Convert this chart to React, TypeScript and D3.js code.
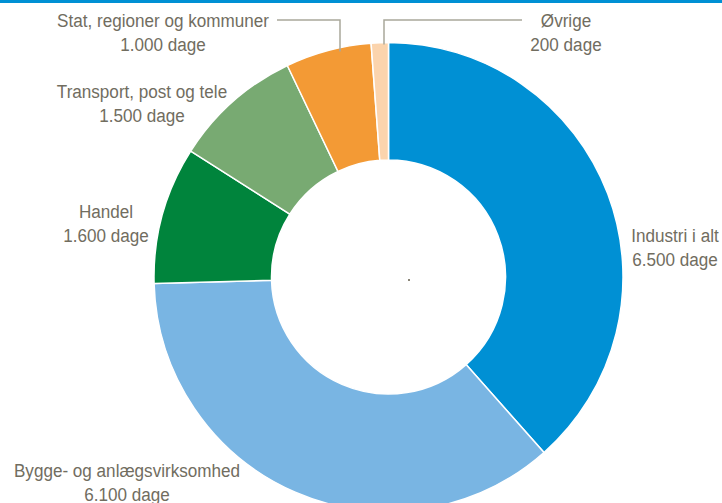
import React from "react";
import * as d3 from "d3";

const categories = ["Industri i alt", "Bygge- og anlægsvirksomhed", "Handel", "Transport, post og tele", "Stat, regioner og kommuner", "Øvrige"];
const values = [6500, 6100, 1600, 1500, 1000, 200];
const valueLabels = ["6.500 dage", "6.100 dage", "1.600 dage", "1.500 dage", "1.000 dage", "200 dage"];
const colors = ["#0090d4", "#79b5e3", "#00843c", "#78aa72", "#f39a35", "#fbd4ad"];

const W = 722, H = 503;
const cx = 388.5, cy = 277, R = 234.5, r = 117;
// label anchors (center x, first baseline)
const labelPos: [number, number][] = [[675, 242], [127, 477], [106, 218], [142, 98], [163, 27], [566, 27]];

export default function App() {
  const pie = d3.pie<number>().sort(null).value((d) => d).startAngle(0).endAngle(2 * Math.PI);
  const arcs = pie(values);
  const arc = d3.arc<d3.PieArcDatum<number>>().innerRadius(r).outerRadius(R);
  const font = "'Liberation Sans', Arial, sans-serif";
  const textColor = "#716d5f";
  const lineColor = "#a9a89b";

  const statX = 340;
  const ovX = 384;

  return (
    <svg width={W} height={H} style={{ position: "fixed", left: 0, top: 0, display: "block" }}>
      <rect x={0} y={0} width={W} height={H} fill="#fff" />
      <rect x={0} y={0} width={W} height={3} fill="#0090d4" />
      <g transform={`translate(${cx},${cy})`}>
        {arcs.map((a, i) => (
          <path key={i} d={arc(a) as string} fill={colors[i]} stroke="#fff" strokeWidth={1.5} />
        ))}
      </g>
      <polyline
        points={`277,20 ${statX},20 ${statX},${cy - Math.sqrt(R * R - (cx - statX) ** 2) + 4}`}
        fill="none" stroke={lineColor} strokeWidth={1.5} />
      <polyline
        points={`522,20 ${ovX},20 ${ovX},${cy - Math.sqrt(R * R - (cx - ovX) ** 2) + 2}`}
        fill="none" stroke={lineColor} strokeWidth={1.5} />
      {categories.map((c, i) => (
        <g key={c} transform={`translate(${labelPos[i][0]},${labelPos[i][1]}) scale(0.9,1)`}>
          <text x={0} y={0} textAnchor="middle" fill={textColor}
            style={{ fontFamily: font, fontSize: 19 }}>
            <tspan x={0}>{c}</tspan>
            <tspan x={0} dy={24}>{valueLabels[i]}</tspan>
          </text>
        </g>
      ))}
      <rect x={408} y={279} width={2} height={2} fill="#8a8577" />
    </svg>
  );
}
